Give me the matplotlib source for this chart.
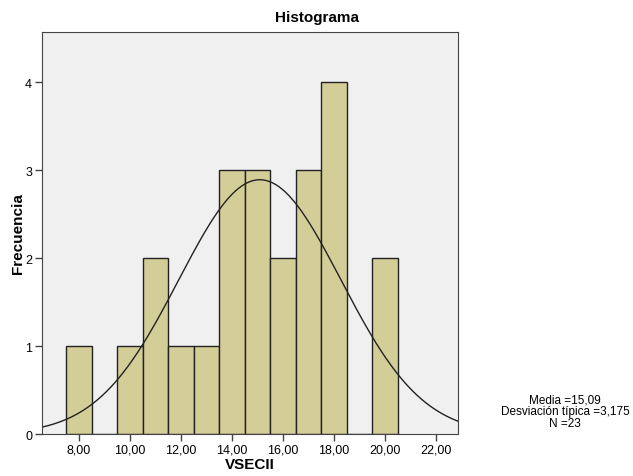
import matplotlib.pyplot as plt
import numpy as np

# bin centres and counts
centros = [8, 9, 10, 11, 12, 13, 14, 15, 16, 17, 18, 19, 20]
frecuencias = [1, 0, 1, 2, 1, 1, 3, 3, 2, 3, 4, 0, 2]
media = 15.09
desv = 3.175
n = 23
xticks = [8, 10, 12, 14, 16, 18, 20, 22]

plt.rcParams['font.family'] = ['Liberation Sans', 'DejaVu Sans']

fig = plt.figure(figsize=(6.33, 4.77), dpi=100)
ax = fig.add_axes([0.066, 0.088, 0.6575, 0.843])
ax.set_facecolor('#F0F0F0')

ax.bar(centros, frecuencias, width=1.0, color='#D3CE98', edgecolor='#222222', linewidth=1.0)

# normal curve scaled to counts (bin width 1)
xs = np.linspace(6.55, 22.85, 400)
ys = n * 1.0 / (desv * np.sqrt(2 * np.pi)) * np.exp(-0.5 * ((xs - media) / desv) ** 2)
ax.plot(xs, ys, color='#222222', linewidth=1.0)

ax.set_xlim(6.55, 22.85)
ax.set_ylim(0, 4.57)
ax.set_xticks(xticks)
ax.set_xticklabels(['%d,00' % t for t in xticks], fontsize=9)
ax.set_yticks([0, 1, 2, 3, 4])
ax.set_yticklabels(['0', '1', '2', '3', '4'], fontsize=9)
ax.tick_params(direction='out', length=5, width=1, color='#444444', pad=2)
for s in ax.spines.values():
    s.set_color('#444444')

ax.set_xlabel('VSECII', fontsize=11, fontweight='bold', labelpad=1)
ax.set_ylabel('Frecuencia', fontsize=11, fontweight='bold', labelpad=0)
fig.text(0.5, 0.963, 'Histograma', ha='center', va='center', fontsize=11, fontweight='bold')
fig.text(0.893, 0.136, 'Media =15,09\nDesviación típica =3,175\nN =23', ha='center', va='center',
         fontsize=8.5, linespacing=0.95)

plt.savefig('out.png', dpi=100)
